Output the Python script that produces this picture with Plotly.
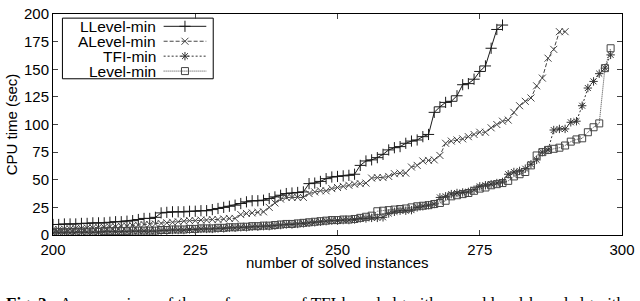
import plotly.graph_objects as go

# ---------------- data ----------------
llevel_x = list(range(200, 280))
llevel_y = [9.5, 9.5, 10, 10, 10, 10.5, 10.5, 11, 11, 11,
            11.5, 12, 12, 12.5, 13, 14, 15, 15, 16, 20,
            20.5, 21, 21, 21, 21.5, 21.5, 22, 22, 23, 24,
            25, 26, 27, 28.5, 30, 31, 31, 31.5, 33, 34.5,
            36, 37.5, 38, 38.5, 39, 46.5, 47, 48.5, 51, 52.5,
            53, 53.5, 54, 55, 63, 67, 68, 70, 73, 77,
            79, 80, 83, 85, 86, 89, 91, 111, 116, 120,
            121, 126, 136, 137, 141, 148, 153, 169, 186, 190]

alevel_x = list(range(200, 291))
alevel_y = [5, 5, 5.5, 5.5, 6, 6, 6.5, 6.5, 7, 7,
            7.5, 7.5, 8, 8, 8.5, 9, 9.5, 9.5, 10, 10.5,
            11, 11.5, 12, 12.5, 13, 13, 13.5, 13.5, 14, 14,
            14.5, 15, 15, 18.5, 19.5, 20, 20.5, 21, 25, 29,
            32.5, 34, 34, 34, 34, 37.5, 39, 40, 40, 42,
            43, 44, 45, 46, 46.5, 47, 51.5, 52, 52, 53,
            55.5, 56, 56, 61.5, 63, 67, 67.5, 68, 72, 83,
            85, 86, 87, 89, 91, 93, 93, 97, 100, 103,
            104, 111, 117, 121, 124, 135, 142, 160, 168, 184,
            184]

tfi_x = list(range(200, 299))
tfi_y = [2, 2, 2, 2, 2.5, 2.5, 2.5, 2.5, 2.5, 3,
         3, 3, 3, 3, 3.5, 3.5, 3.5, 3.5, 3.5, 4,
         4, 4.5, 4.5, 4.5, 5, 5, 5.5, 5.5, 5.5, 6,
         6, 6.5, 6.5, 7, 7, 7.5, 7.5, 8, 8, 8.5,
         9, 9.5, 9.5, 10, 10.5, 11, 11.5, 12, 12.5, 13,
         13, 13.5, 13.5, 14, 15, 15, 15.5, 15.5, 16, 19.5,
         21, 22, 22, 22.5, 25, 26, 27, 28, 34, 35,
         37, 38, 38.5, 39, 41, 44, 45, 46, 47, 48,
         55, 57, 58, 60, 64, 68, 75, 77, 95, 96,
         96, 102, 103, 117, 133, 139, 146, 151, 163]

level_x = list(range(200, 299))
level_y = [2.5, 2.5, 2.5, 2.5, 3, 3, 3, 3, 3, 3.5,
           3.5, 3.5, 3.5, 3.5, 4, 4, 4, 4, 4, 4.5,
           4.5, 5, 5, 5, 5.5, 5.5, 6, 6, 6, 6.5,
           6.5, 7, 7, 7.5, 7.5, 8, 8, 8.5, 8.5, 9,
           9.5, 10, 10, 10.5, 11, 11.5, 12, 12.5, 13, 13.5,
           13.5, 14, 14, 14.5, 15.5, 16.5, 17.5, 21.5, 22, 22.5,
           23, 23.5, 24, 25, 26, 26.5, 27, 28, 29, 31,
           35, 36, 37, 38, 40, 42, 43, 45, 46, 47,
           49, 53, 55, 57, 63, 72, 75, 77, 78, 79,
           81, 84.5, 86.5, 87.5, 93, 97.5, 101, 151, 169]

series_names = ["LLevel-min", "ALevel-min", "TFI-min", "Level-min"]
x_ticks = [200, 225, 250, 275, 300]
y_ticks = [0, 25, 50, 75, 100, 125, 150, 175, 200]

# ---------------- styles ----------------
styles = [
    dict(color="#1a1a1a", dash="solid", symbol="cross-thin-open", size=8),
    dict(color="#444444", dash="4px,2px", symbol="x-thin-open", size=7),
    dict(color="#333333", dash="2px,2px", symbol="asterisk-open", size=7),
    dict(color="#444444", dash="1px,1px", symbol="square-open", size=7),
]
data = [(llevel_x, llevel_y), (alevel_x, alevel_y), (tfi_x, tfi_y), (level_x, level_y)]

fig = go.Figure()
for (xs, ys), name, st in zip(data, series_names, styles):
    fig.add_trace(go.Scatter(
        x=xs, y=ys, name=name, mode="lines+markers",
        line=dict(color=st["color"], width=1, dash=st["dash"]),
        marker=dict(symbol=st["symbol"], size=st["size"],
                    color=st["color"],
                    line=dict(color=st["color"], width=1)),
        showlegend=False,
    ))

# ---------------- custom legend (text left, sample right) ----------------
W, H = 640, 301
ml, mr, mt, mb = 52.5, 14, 5.7, 65.7
pw, ph = W - ml - mr, H - mt - mb

def px2paper_x(px):
    return (px - ml) / pw

def py2paper_y(py):
    return (H - mb - py) / ph

fig.add_shape(type="rect", xref="paper", yref="paper",
              x0=px2paper_x(62), x1=px2paper_x(214),
              y0=py2paper_y(73), y1=py2paper_y(10),
              line=dict(color="black", width=1), fillcolor="white", layer="below")

row_py = [18.5, 34, 49.5, 65]
for name, st, py in zip(series_names, styles, row_py):
    fig.add_annotation(xref="paper", yref="paper",
                       x=px2paper_x(157), y=py2paper_y(py),
                       xanchor="right", yanchor="middle", showarrow=False,
                       borderpad=0,
                       text=name, font=dict(size=15.5, color="black",
                                            family="Liberation Sans, Arial, sans-serif"))
    # legend sample on an overlay axis
    fig.add_trace(go.Scatter(
        x=[px2paper_x(164), px2paper_x(207)], y=[py2paper_y(py)] * 2,
        xaxis="x2", yaxis="y2", mode="lines", showlegend=False, hoverinfo="skip",
        line=dict(color=st["color"], width=1, dash=st["dash"])))
    fig.add_trace(go.Scatter(
        x=[px2paper_x(185.5)], y=[py2paper_y(py)],
        xaxis="x2", yaxis="y2", mode="markers", showlegend=False, hoverinfo="skip",
        marker=dict(symbol=st["symbol"], size=st["size"], color=st["color"],
                    line=dict(color=st["color"], width=1))))

axis_font = dict(size=15, color="black", family="Liberation Sans, Arial, sans-serif")

# x-axis title placed precisely
fig.add_annotation(xref="paper", yref="paper", x=0.5, y=py2paper_y(263.5),
                   xanchor="center", yanchor="middle", showarrow=False,
                   text="number of solved instances", font=axis_font)

# caption (cut at bottom of image, as in the reference)
fig.add_annotation(xref="paper", yref="paper", x=px2paper_x(3), y=py2paper_y(294),
                   xanchor="left", yanchor="top", showarrow=False,
                   text="<b>Fig. 2:</b>  A comparison of the performance of TFI-based algorithms and level-based algorithms",
                   font=dict(size=17, color="black", family="Liberation Serif, Times New Roman, serif"))

fig.update_layout(
    width=W, height=H,
    margin=dict(l=ml, r=mr, t=mt, b=mb, pad=0),
    paper_bgcolor="white", plot_bgcolor="white",
    font=axis_font,
    xaxis=dict(range=[200, 300], tickvals=x_ticks, ticks="inside", ticklen=5,
               showline=True, linecolor="black", linewidth=1, mirror="ticks",
               showgrid=False, zeroline=False, tickfont=axis_font,
               ticklabeloverflow="allow", ticklabelstandoff=1),
    yaxis=dict(range=[0, 200], tickvals=y_ticks, ticks="inside", ticklen=5,
               showline=True, linecolor="black", linewidth=1, mirror="ticks",
               showgrid=False, zeroline=False, tickfont=axis_font,
               ticklabeloverflow="allow",
               title=dict(text="CPU time (sec)", font=axis_font, standoff=2)),
    xaxis2=dict(range=[0, 1], overlaying="x", visible=False, fixedrange=True),
    yaxis2=dict(range=[0, 1], overlaying="y", visible=False, fixedrange=True),
)

fig.write_html("out.html", config={"displayModeBar": False},
               post_script="document.body.style.margin='0';document.body.style.padding='0';document.body.style.overflow='hidden';")
